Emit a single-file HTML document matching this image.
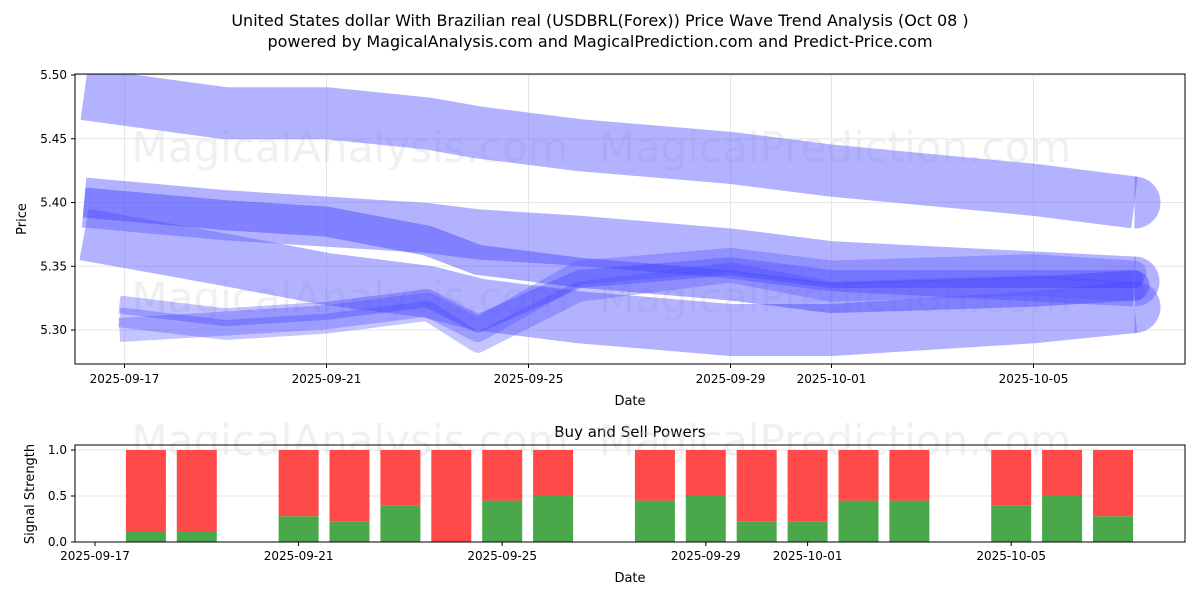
<!DOCTYPE html>
<html><head><meta charset="utf-8"><style>
body{margin:0;background:#fff;font-family:"Liberation Sans","DejaVu Sans",sans-serif}
svg text{font-family:"DejaVu Sans","Liberation Sans",sans-serif}
</style></head><body>
<svg id="c" width="1200" height="600" xmlns="http://www.w3.org/2000/svg">
<text x="600" y="26" font-size="16" text-anchor="middle">United States dollar With Brazilian real (USDBRL(Forex)) Price Wave Trend Analysis (Oct 08 )</text>
<text x="600" y="47" font-size="16" text-anchor="middle">powered by MagicalAnalysis.com and MagicalPrediction.com and Predict-Price.com</text>
<g id="topg"></g>
<g id="botg"></g>
</svg>
<script>
// ---- data ----
const priceTicks=[5.30,5.35,5.40,5.45,5.50];
const topDateTicks=[1,5,9,13,15,19]; // days after 2025-09-16
const topDateLabels=["2025-09-17","2025-09-21","2025-09-25","2025-09-29","2025-10-01","2025-10-05"];
const botDateTicks=[0,4,8,12,14,18]; // days after 2025-09-17
const botDateLabels=["2025-09-17","2025-09-21","2025-09-25","2025-09-29","2025-10-01","2025-10-05"];
const waveDays=[0.2,3,5,7,8,10,13,15,19,21];
const waveDaysLow=[0.9,3,5,7,8,10,13,15,19,21];
const wave1=[5.485,5.47,5.47,5.462,5.455,5.445,5.435,5.425,5.41,5.40];
const wave2=[5.40,5.39,5.385,5.38,5.375,5.37,5.36,5.35,5.342,5.338];
const wave3=[5.375,5.355,5.34,5.33,5.32,5.31,5.30,5.30,5.31,5.318];
const wave4=[5.40,5.39,5.385,5.37,5.355,5.345,5.335,5.325,5.33,5.335];
const wave5=[5.30,5.305,5.31,5.32,5.30,5.345,5.355,5.345,5.35,5.345];
const wave6=[5.31,5.30,5.305,5.315,5.29,5.33,5.345,5.33,5.335,5.33];
const wave7=[5.32,5.31,5.315,5.325,5.305,5.34,5.35,5.34,5.34,5.34];
const barDays=[1,2,4,5,6,7,8,9,11,12,13,14,15,16,18,19,20];
const buyVals=[0.12,0.12,0.28,0.22,0.40,0.0,0.45,0.50,0.45,0.50,0.22,0.22,0.45,0.45,0.40,0.50,0.28];
const sellVals=[0.88,0.88,0.72,0.78,0.60,1.0,0.55,0.50,0.55,0.50,0.78,0.78,0.55,0.55,0.60,0.50,0.72];
const powerTicks=[0,0.5,1.0];
const powerTickLabels=["0.0","0.5","1.0"];
// ---- helpers ----
const NS="http://www.w3.org/2000/svg";
function mk(p,t,a){const e=document.createElementNS(NS,t);for(const k in a)e.setAttribute(k,a[k]);p.appendChild(e);return e;}
const topG=document.getElementById('topg'),botG=document.getElementById('botg');
const TL=75,TR=1185,TT=74,TB=364;
const tx=d=>74+d*50.5;
const ty=v=>330-(v-5.30)/0.05*63.75;
const BT=445,BB=542;
const bx=d=>95+d*50.9;
const by=v=>542-v*92;
priceTicks.forEach(v=>{
 const l=mk(topG,'line',{x1:TL,x2:TR,y1:ty(v),y2:ty(v),stroke:'#e6e6e6'});
 
 
 mk(topG,'line',{x1:TL-4,x2:TL,y1:ty(v),y2:ty(v),stroke:'#000'});
 const t=mk(topG,'text',{x:TL-8,y:ty(v)+4,'font-size':12,'text-anchor':'end'});t.textContent=v.toFixed(2);
 
 
});
topDateTicks.forEach((d,i)=>{
 mk(topG,'line',{x1:tx(d),x2:tx(d),y1:TT,y2:TB,stroke:'#e6e6e6'});
 mk(topG,'line',{x1:tx(d),x2:tx(d),y1:TB,y2:TB+4,stroke:'#000'});
 const t=mk(topG,'text',{x:tx(d),y:TB+19,'font-size':12,'text-anchor':'middle'});t.textContent=topDateLabels[i];
 
 
});
const wm=[[350,162,'MagicalAnalysis.com'],[835,162,'MagicalPrediction.com'],[350,312,'MagicalAnalysis.com'],[835,312,'MagicalPrediction.com']];
wm.forEach(w=>{const t=mk(topG,'text',{x:w[0],y:w[1],'font-size':42,'text-anchor':'middle',fill:'#ccc','fill-opacity':0.3});t.textContent=w[2];
 
 });
const cp=mk(topG,'clipPath',{id:'cp'});mk(cp,'rect',{x:TL,y:TT,width:TR-TL,height:TB-TT});
const wg=mk(topG,'g',{'clip-path':'url(#cp)'});
const waves=[[wave1,52,'#6666ff',0.5,waveDays],[wave2,50,'#6666ff',0.5,waveDays],[wave3,52,'#6666ff',0.5,waveDays],[wave4,30,'#4444ff',0.45,waveDays],[wave5,24,'#5555ff',0.35,waveDaysLow],[wave6,20,'#5555ff',0.35,waveDaysLow],[wave7,18,'#3333ff',0.3,waveDaysLow]];
waves.forEach((w,k)=>{
 const days=w[4];
 const pts=days.map((d,i)=>tx(d)+','+ty(w[0][i])).join(' ');
 const p=mk(wg,'polyline',{points:pts,fill:'none',stroke:w[2],'stroke-opacity':w[3],'stroke-width':w[1],'stroke-linejoin':'round'});
 
 
 const last=days.length-1;
 mk(wg,'path',{d:`M${tx(days[last])},${ty(w[0][last])-w[1]/2} a${w[1]/2},${w[1]/2} 0 0 1 0,${w[1]}`,fill:w[2],'fill-opacity':w[3]});
});
mk(topG,'rect',{x:TL,y:TT,width:TR-TL,height:TB-TT,fill:'none',stroke:'#000'});
let t=mk(topG,'text',{x:630,y:405,'font-size':13,'text-anchor':'middle'});t.textContent='Date';


t=mk(topG,'text',{x:26,y:219,'font-size':13,'text-anchor':'middle',transform:'rotate(-90 26 219)'});t.textContent='Price';


t=mk(botG,'text',{x:630,y:437,'font-size':15,'text-anchor':'middle'});t.textContent='Buy and Sell Powers';


powerTicks.forEach((v,i)=>{
 mk(botG,'line',{x1:TL,x2:TR,y1:by(v),y2:by(v),stroke:'#e6e6e6'});
 mk(botG,'line',{x1:TL-4,x2:TL,y1:by(v),y2:by(v),stroke:'#000'});
 const s=mk(botG,'text',{x:TL-8,y:by(v)+4,'font-size':12,'text-anchor':'end'});s.textContent=powerTickLabels[i];
 
 
});
botDateTicks.forEach((d,i)=>{
 mk(botG,'line',{x1:bx(d),x2:bx(d),y1:BB,y2:BB+4,stroke:'#000'});
 const s=mk(botG,'text',{x:bx(d),y:BB+18,'font-size':12,'text-anchor':'middle'});s.textContent=botDateLabels[i];
 
 
});
[[350,455,'MagicalAnalysis.com'],[835,455,'MagicalPrediction.com']].forEach(w=>{const s=mk(botG,'text',{x:w[0],y:w[1],'font-size':42,'text-anchor':'middle',fill:'#ccc','fill-opacity':0.3});s.textContent=w[2];
 
 });
barDays.forEach((d,i)=>{
 const x=bx(d)-20,b=buyVals[i],s=sellVals[i];
 const g=mk(botG,'rect',{x:x,y:by(b),width:40,height:by(0)-by(b),fill:'#4aa84a'});
 
 
 const r=mk(botG,'rect',{x:x,y:by(b+s),width:40,height:by(b)-by(b+s),fill:'#ff4a4a'});
 
 
});
mk(botG,'rect',{x:TL,y:BT,width:TR-TL,height:BB-BT,fill:'none',stroke:'#000'});
t=mk(botG,'text',{x:630,y:582,'font-size':13,'text-anchor':'middle'});t.textContent='Date';


t=mk(botG,'text',{x:34,y:494,'font-size':13,'text-anchor':'middle',transform:'rotate(-90 34 494)'});t.textContent='Signal Strength';


</script>
</body></html>
